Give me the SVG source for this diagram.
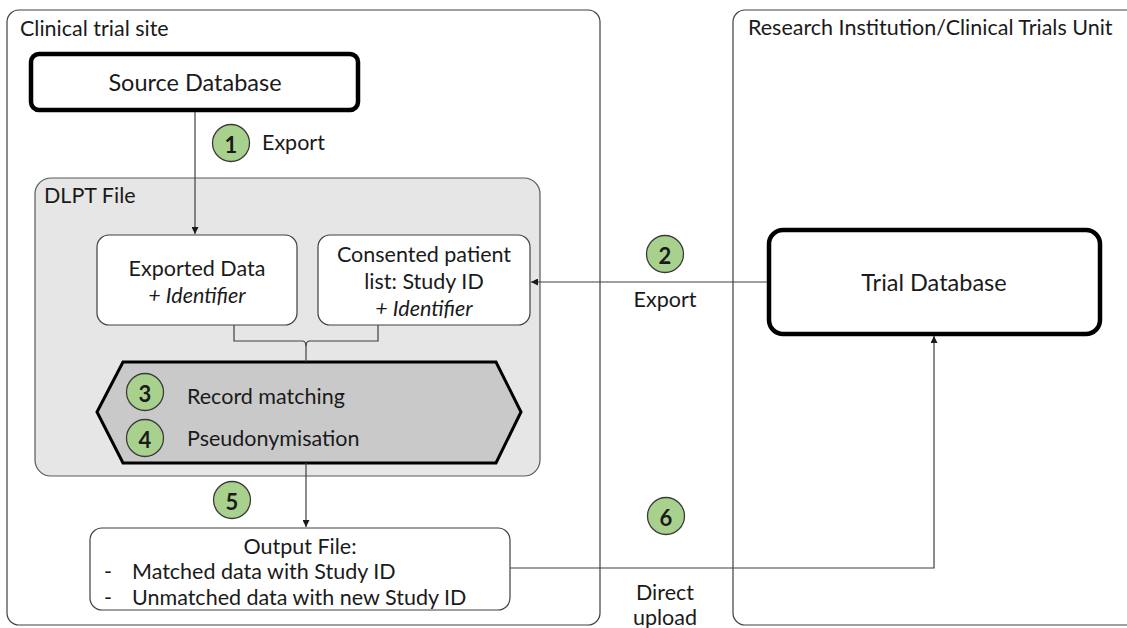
<svg xmlns="http://www.w3.org/2000/svg" width="1127" height="628" viewBox="0 0 1127 628">
  <defs>
    <style>
      text { font-family: Lato, "Liberation Sans", sans-serif; fill: #1a1a1a; font-size: 21.5px; }
      .mid { text-anchor: middle; dominant-baseline: central; }
      .lft { dominant-baseline: central; }
      .it { font-style: italic; }
      .big { font-size: 23.5px; }
      .lane { fill: #ffffff; stroke: #404040; stroke-width: 1.2; }
      .db { fill: #ffffff; stroke: #000000; stroke-width: 4.5; }
      .box { fill: #ffffff; stroke: #404040; stroke-width: 1.2; }
      .wire { fill: none; stroke: #404040; stroke-width: 1.2; }
      .step circle { fill: #a9d18e; stroke: #3a3a3a; stroke-width: 1.3; }
      .step .num { font-weight: bold; font-size: 22px; text-anchor: middle; dominant-baseline: central; }
    </style>
    <marker id="arr" viewBox="0 0 10 10" refX="10" refY="5" markerWidth="7" markerHeight="7" orient="auto" markerUnits="userSpaceOnUse">
      <path d="M0,0 L10,5 L0,10 z" fill="#1a1a1a"/>
    </marker>
  </defs>

  <!-- swimlanes -->
  <g id="lane-site">
    <rect class="lane" x="7" y="10" width="593" height="615" rx="12"/>
    <text class="lft" x="20" y="28">Clinical trial site</text>
  </g>
  <g id="lane-unit">
    <rect class="lane" x="733" y="10" width="420" height="615" rx="12"/>
    <text class="lft" x="748" y="27">Research Institution/Clinical Trials Unit</text>
  </g>

  <!-- DLPT container -->
  <g id="dlpt">
    <rect x="35" y="178" width="505" height="298" rx="16" fill="#e7e6e6" stroke="#595959" stroke-width="1.2"/>
    <text class="lft" x="44" y="195">DLPT File</text>
  </g>

  <g id="source-db">
    <rect class="db" x="31" y="54" width="327" height="56" rx="8"/>
    <text class="mid big" x="195" y="82">Source Database</text>
  </g>

  <g id="exported-data">
    <rect class="box" x="97" y="235" width="200" height="90" rx="12"/>
    <text class="mid" x="197" y="268">Exported Data</text>
    <text class="mid it" x="197" y="295">+ Identifier</text>
  </g>

  <g id="consented-list">
    <rect class="box" x="318" y="235" width="212" height="90" rx="12"/>
    <text class="mid" x="424" y="254">Consented patient</text>
    <text class="mid" x="424" y="281">list: Study ID</text>
    <text class="mid it" x="424" y="308">+ Identifier</text>
  </g>

  <g id="processing">
    <polygon points="97,412 123,362 496,362 521,412 496,463 123,463" fill="#c9c9c9" stroke="#000000" stroke-width="3"/>
    <text class="lft" x="187" y="396">Record matching</text>
    <text class="lft" x="187" y="438">Pseudonymisation</text>
  </g>

  <g id="output-file">
    <rect class="box" x="90" y="528" width="420" height="82" rx="12"/>
    <text class="mid" x="300" y="546">Output File:</text>
    <text class="lft" x="104" y="571">-</text>
    <text class="lft" x="132" y="571">Matched data with Study ID</text>
    <text class="lft" x="104" y="597">-</text>
    <text class="lft" x="132" y="597">Unmatched data with new Study ID</text>
  </g>

  <g id="trial-db">
    <rect class="db" x="769" y="230" width="331" height="104" rx="14"/>
    <text class="mid big" x="934" y="282">Trial Database</text>
  </g>

  <!-- connectors -->
  <g id="connectors">
    <line class="wire" x1="195" y1="112" x2="195" y2="234" marker-end="url(#arr)"/>
    <line class="wire" x1="767" y1="282" x2="531" y2="282" marker-end="url(#arr)"/>
    <path class="wire" d="M234,325 V341 H302 Q306,341 306,346 Q306,341 310,341 H378 V325"/>
    <line class="wire" x1="306" y1="344" x2="306" y2="362"/>
    <line class="wire" x1="306" y1="463" x2="306" y2="527" marker-end="url(#arr)"/>
    <path class="wire" d="M510,568 H934 V336" marker-end="url(#arr)"/>
  </g>

  <!-- step labels -->
  <g id="step-1" class="step">
    <circle cx="231" cy="143" r="18.5"/>
    <text class="num" x="231" y="144">1</text>
    <text class="lft" x="262" y="142">Export</text>
  </g>
  <g id="step-2" class="step">
    <circle cx="665" cy="254" r="18.5"/>
    <text class="num" x="665" y="255">2</text>
    <text class="mid" x="665" y="299">Export</text>
  </g>
  <g id="step-3" class="step">
    <circle cx="145" cy="392" r="18.5"/>
    <text class="num" x="145" y="393">3</text>
  </g>
  <g id="step-4" class="step">
    <circle cx="145" cy="438" r="18.5"/>
    <text class="num" x="145" y="439">4</text>
  </g>
  <g id="step-5" class="step">
    <circle cx="232" cy="500" r="18.5"/>
    <text class="num" x="232" y="501">5</text>
  </g>
  <g id="step-6" class="step">
    <circle cx="666" cy="516" r="18.5"/>
    <text class="num" x="666" y="517">6</text>
    <text class="mid" x="665" y="592">Direct</text>
    <text class="mid" x="665" y="617">upload</text>
  </g>
</svg>
